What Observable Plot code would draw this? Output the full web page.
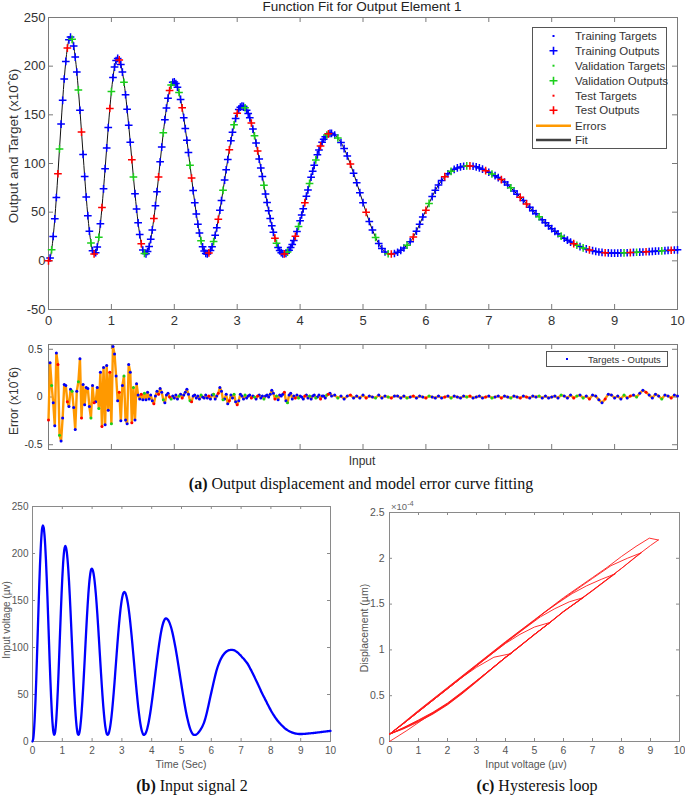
<!DOCTYPE html>
<html><head><meta charset="utf-8">
<script src="https://cdn.jsdelivr.net/npm/d3@7"></script>
<script src="https://cdn.jsdelivr.net/npm/@observablehq/plot@0.6"></script>
<style>
body{margin:0;background:#fff}
#fig{position:relative;width:685px;height:796px;overflow:hidden;background:#fff;font-family:"Liberation Sans",Arial,sans-serif;color:#333}
.t{position:absolute;white-space:nowrap;line-height:1}
.cap{font-family:"Liberation Serif","Times New Roman",serif;color:#111}
</style></head><body><div id="fig"></div>
<script>
// ---------------- DATA ----------------
// sample grid of the fitted signal (s): fine steps up to 4.5 s, coarser after
const fineSamples = d3.range(0, 181).map(i => +(i * 0.025).toFixed(3));
const coarseSamples = d3.range(1, 111).map(i => +(4.5 + i * 0.05).toFixed(3));
const sampleTimes = [...fineSamples, ...coarseSamples];

// network outputs (x10^6), one array per half-cycle
const outRise1 = [0, 2.9, 11.4, 25.1, 43.2, 65.1, 89.5, 115, 140.5, 164.9, 186.8, 204.9, 218.6, 227.1, 230];
const outFall1 = [227.6, 220.6, 209.3, 194.0, 175.6, 154.7, 132.3, 109.3, 86.6, 65.5, 46.4, 30.5, 18.4, 10.4, 7.1];
const outRise2 = [8.4, 14.2, 24.2, 38.0, 54.8, 74.0, 94.7, 116.0, 136.9, 156.5, 173.9, 188.3, 199.1, 205.7, 208];
const outFall2 = [206.4, 201.7, 193.9, 183.5, 170.6, 155.7, 139.3, 121.8, 103.9, 86.1, 69.0, 53.2, 39.0, 27.0, 17.6, 11.1, 7.6];
const outRise3 = [7.2, 9.6, 14.6, 22.1, 31.8, 43.5, 56.7, 71.1, 86.2, 101.7, 116.9, 131.5, 145.0, 157.0, 167.1, 175.0, 180.6, 183.5];
const outFall3 = [183.8, 182.1, 178.4, 173.0, 165.8, 157.2, 147.1, 135.9, 123.9, 111.2, 98.1, 85.0, 72.2, 59.8, 48.2, 37.7, 28.5, 20.7, 14.5, 10.1, 7.6];
const outRise4 = [7.0, 8.1, 10.6, 14.5, 19.8, 26.3, 33.9, 42.6, 52.0, 61.9, 72.4, 83.0, 93.6, 104.1, 114.0, 123.4, 132.1, 139.7, 146.2, 151.5, 155.4, 157.9, 159.0];
const outFall4 = [158.7, 157.3, 154.8, 151.4, 146.9, 141.6, 135.4, 128.5, 121.0, 112.9, 104.5, 95.5, 86.6, 77.6, 68.6, 59.9, 51.5, 43.4, 36.0, 29.3, 23.3, 18.1, 13.8, 10.6, 8.4, 7.2];
const outRise5 = [7.1, 7.7, 9.0, 11.0, 13.6, 16.9, 20.8, 25.2, 30.1, 35.4, 41.1, 47.1, 53.4, 59.8, 66.4, 72.9, 79.5, 85.9, 92.1, 98.1, 103.7, 108.9, 113.8, 118.1, 121.8, 124.9, 127.4, 129.3, 130.5, 131.0, 130.9];
const outFall5 = [129.3, 126.2, 121.5, 115.3, 107.8, 99.4, 90.1, 80.2, 70.0, 59.8, 49.8, 40.4, 31.7, 24.1, 17.7, 12.6, 9.2, 7.3];
const outRise6 = [7.0, 7.5, 8.8, 10.8, 13.2, 16.0, 19.5, 24.5, 30.5, 37.5, 45, 52, 59, 66, 72.5, 78, 82.5, 86.5, 89.5, 92, 94, 95.5, 96.5, 97.2, 97.5, 97.5];
const outTail = [97.2, 96.6, 95.5, 94.2, 92.6, 91.0, 89.2, 87.5, 85.5, 83.5, 81, 78, 75, 71.8, 68.5, 65.2, 62, 58.5, 55, 51.5,
  48.5, 45.3, 42.2, 39, 36, 33, 30.3, 27.8, 25.3, 23.2, 21.2, 19.3, 17.6, 16, 14.6, 13.3, 12.2, 11.2, 10.4, 9.7,
  9.1, 8.6, 8.3, 8.1, 8.0, 8.0, 8.0, 8.1, 8.2, 8.3, 8.5, 8.6, 8.8, 8.9, 9.1, 9.3, 9.5, 9.7, 9.9, 10.1,
  10.3, 10.5, 10.7, 10.9, 11.1, 11.3];
const outputValues = [...outRise1, ...outFall1, ...outRise2, ...outFall2, ...outRise3, ...outFall3,
  ...outRise4, ...outFall4, ...outRise5, ...outFall5, ...outRise6, ...outTail];

// errors = targets - outputs (x10^6)
const errEarly = [
  -0.24, 0.36, 0.12, -0.06, -0.30, 0.46, 0.34, -0.40, -0.46, -0.22,
  0.13, 0.12, -0.05, -0.10, 0.08, 0.06, -0.11, -0.34, 0.06, 0.16,
  0.40, -0.22, 0.13, -0.08, 0.10, 0.09, -0.10, -0.22, 0.12, -0.06,
  -0.05, 0.10, -0.12, 0.26, -0.31, 0.31, -0.29, 0.33, -0.14, 0.26,
  -0.28, 0.53, 0.45, 0.22, -0.04, 0.05, -0.25, 0.12, 0.22, -0.24,
  -0.28, 0.34, 0.26, -0.27, 0.10, -0.24, 0.14, 0.02, -0.02, 0.03,
  -0.03];
const errMid = [
  0.04, -0.03, 0.05, -0.02, 0.02, -0.04, -0.07, 0.01, 0.06, 0.03, 0.09, 0.05, -0.03, -0.06, 0.02, 0.04, 0.00, -0.02, 0.01, -0.01,
  0.02, -0.02, 0.01, 0.03, -0.01, 0.02, 0.05, 0.08, 0.03, -0.04, -0.05, 0.01, 0.02, -0.01, 0.01, -0.02, 0.02, 0.00, -0.01, 0.02,
  -0.01, 0.01, -0.02, 0.02, 0.03, -0.02, 0.01, 0.04, 0.10, 0.06, -0.03, -0.02, 0.03, -0.07, -0.04, 0.02, -0.01, 0.03, -0.05, -0.08,
  -0.04, 0.03, 0.01, -0.02, 0.02, -0.01, 0.01, 0.02, -0.01, 0.01, 0.00, -0.02, 0.01, 0.02, -0.01, 0.01, -0.02, 0.01, 0.02, 0.00,
  0.03, 0.07, 0.04, -0.02, 0.01, -0.03, 0.02, 0.01, 0.03, 0.05, -0.04, -0.06, 0.02, 0.04, -0.02, 0.01, -0.01, 0.02, -0.01, 0.01,
  0.00, -0.02, 0.01, 0.02, -0.01, 0.01, -0.02, 0.01, 0.02, -0.01, 0.00, 0.02, -0.02, 0.01, 0.01, -0.01, 0.02, 0.03, 0.04, 0.01];
const errLate = [
  0.02, -0.01, 0.01, -0.02, 0.01, 0.02, -0.01, 0.01, -0.01, 0.02,
  -0.01, 0.01, 0.00, -0.01, 0.02, -0.01, 0.01, 0.00, -0.01, 0.01,
  0.01, -0.01, 0.01, -0.01, 0.00, 0.01, -0.01, 0.01, 0.00, -0.01,
  0.01, 0.00, -0.01, 0.01, -0.01, 0.00, 0.01, -0.01, 0.01, 0.00,
  -0.01, 0.01, 0.00, 0.01, -0.01, 0.00, 0.01, -0.01, 0.00, 0.01,
  -0.01, 0.00, 0.01, -0.01, 0.01, 0.00, -0.01, 0.01, 0.00, -0.01,
  0.01, 0.00, -0.01, 0.01, 0.00, 0.01, -0.01, 0.01, -0.01, 0.00,
  0.01, -0.01, 0.02, 0.01, -0.01, 0.02, -0.01, 0.01, 0.02, -0.01,
  0.01, -0.02, 0.02, 0.01, -0.03, -0.06, -0.02, 0.03, 0.02, -0.01,
  0.01, -0.02, 0.02, -0.01, 0.01, 0.02, 0.00, 0.04, 0.07, 0.05,
  0.02, -0.01, 0.03, 0.01, -0.02, 0.02, 0.01, -0.01, 0.02, 0.01];
const errorValues = [...errEarly, ...errMid, ...errLate];

// data division of each sample: t = training, v = validation, s = test
const setCodes = (
  "stvtttsvtt" + "ttsttvtttv" + "tstttttvts" + "ttvtstttts" + "vttttsttvt" +
  "tttsvtttts" + "tvtttttstt" + "sttvtttsvt" + "tttvtstttt" + "vstttttvtt" +
  "ttsttvttst" + "tvtttsttvt" + "sttttvttts" + "tvtstttvtt" + "ttttsvtttt" +
  "stvttttstv" + "tttsttvttt" + "vttstttvst" + "ttvtttsttt" + "tsttvtttvs" +
  "ttttvtsttt" + "svttttstvt" + "tttvstttts" + "tvttsttvtt" + "ststttvttt" +
  "tttvtttsvt" + "vtsttttstt" + "tttvtstvtt" + "sttttvttst" + "tvtsttttvt").split("");

// hysteresis loop: input voltage (µv) vs displacement (x10^-4 µm), branch by branch
const hysUp1X = [0, 0.6, 1.2, 1.5, 2, 2.5, 3, 3.5, 4, 4.5, 5, 5.5, 6, 6.5, 7, 7.5, 8, 8.5, 9, 9.27];
const hysUp1Y = [0, 0.12, 0.25, 0.31, 0.41, 0.53, 0.66, 0.79, 0.92, 1.04, 1.17, 1.29, 1.42, 1.53, 1.65, 1.77, 1.89, 2.02, 2.14, 2.20];
const hysDown1X = [9.27, 8.96, 8.5, 8, 7.5, 7, 6.5, 6, 5.5, 5, 4.5, 4, 3.5, 3, 2.5, 2, 1.5, 1, 0.5, 0];
const hysDown1Y = [2.20, 2.22, 2.13, 2.02, 1.90, 1.79, 1.68, 1.57, 1.45, 1.33, 1.21, 1.09, 0.965, 0.84, 0.715, 0.59, 0.465, 0.34, 0.21, 0.08];
const hysUp2X = [0, 0.5, 1, 1.5, 2, 2.5, 3, 3.5, 4, 4.5, 5, 5.5, 6, 6.5, 7, 7.5, 8, 8.68];
const hysUp2Y = [0.08, 0.14, 0.215, 0.30, 0.40, 0.52, 0.65, 0.785, 0.915, 1.04, 1.17, 1.29, 1.42, 1.535, 1.65, 1.77, 1.89, 2.06];
const hysDown2X = [8.68, 8.2, 7.64, 7, 6.5, 6, 5.5, 5, 4.5, 4, 3.5, 3, 2.5, 2, 1.5, 1, 0.5, 0];
const hysDown2Y = [2.06, 2.0, 1.92, 1.78, 1.67, 1.56, 1.445, 1.325, 1.205, 1.085, 0.96, 0.835, 0.71, 0.585, 0.46, 0.335, 0.205, 0.08];
const hysUp3X = [0, 0.5, 1, 1.5, 2, 2.5, 3, 3.5, 4, 4.5, 5, 5.5, 6, 6.5, 7, 7.5, 7.78];
const hysUp3Y = [0.08, 0.145, 0.22, 0.305, 0.405, 0.525, 0.655, 0.785, 0.915, 1.04, 1.165, 1.29, 1.415, 1.53, 1.645, 1.765, 1.83];
const hysDown3X = [7.78, 7.3, 6.8, 6.3, 5.8, 5.3, 5, 4.5, 4, 3.5, 3, 2.5, 2, 1.5, 1, 0.5, 0];
const hysDown3Y = [1.83, 1.77, 1.70, 1.615, 1.51, 1.40, 1.32, 1.20, 1.08, 0.955, 0.83, 0.705, 0.58, 0.455, 0.33, 0.20, 0.08];
const hysUp4X = [0, 0.5, 1, 1.5, 2, 2.5, 3, 3.5, 4, 4.5, 5, 5.5, 6, 6.68];
const hysUp4Y = [0.08, 0.15, 0.225, 0.31, 0.41, 0.53, 0.66, 0.79, 0.92, 1.045, 1.17, 1.295, 1.42, 1.57];
const hysDown4X = [6.68, 6.2, 5.7, 5.2, 4.6, 4, 3.5, 3, 2.5, 2, 1.5, 1, 0.5, 0];
const hysDown4Y = [1.57, 1.525, 1.45, 1.36, 1.22, 1.075, 0.95, 0.825, 0.70, 0.575, 0.45, 0.325, 0.20, 0.08];
const hysUp5X = [0, 0.5, 1, 1.5, 2, 2.5, 3, 3.5, 4, 4.5, 5, 5.54];
const hysUp5Y = [0.08, 0.15, 0.23, 0.315, 0.415, 0.535, 0.66, 0.79, 0.92, 1.045, 1.17, 1.30];
const hysDown5X = [5.54, 5.0, 4.5, 4.0, 3.5, 3, 2.5, 2, 1.5, 1, 0.5, 0];
const hysDown5Y = [1.30, 1.25, 1.17, 1.07, 0.95, 0.825, 0.70, 0.575, 0.45, 0.325, 0.20, 0.08];
const hysUp6X = [0, 0.5, 1, 1.5, 2, 2.5, 3, 3.5, 4, 4.2];
const hysUp6Y = [0.08, 0.155, 0.235, 0.32, 0.42, 0.54, 0.665, 0.79, 0.92, 0.96];
const hysDown6X = [4.2, 3.6, 3.0, 2.5, 2, 1.5, 1, 0.5, 0];
const hysDown6Y = [0.96, 0.92, 0.81, 0.70, 0.575, 0.45, 0.325, 0.20, 0.08];

// tick values
const xTicks = [0, 1, 2, 3, 4, 5, 6, 7, 8, 9, 10];
const fitYTicks = [-50, 0, 50, 100, 150, 200, 250];
const errYTicks = [-0.5, 0, 0.5];
const inputYTicks = [0, 50, 100, 150, 200, 250];
const hysYTicks = [0, 0.5, 1, 1.5, 2, 2.5];

// ---------------- BUILD ----------------
const fig = document.getElementById("fig");
const BLUE = "#0000ff", GREEN = "#1ccf1c", RED = "#ff0000", ORANGE = "#ff9900";
const SET_COLOR = {t: BLUE, v: GREEN, s: RED};

const samples = sampleTimes.map((t, i) => ({
  t, y: outputValues[i], err: errorValues[i], set: setCodes[i] || "t"
}));
const hysBranches = [[hysUp1X, hysUp1Y], [hysDown1X, hysDown1Y], [hysUp2X, hysUp2Y], [hysDown2X, hysDown2Y],
  [hysUp3X, hysUp3Y], [hysDown3X, hysDown3Y], [hysUp4X, hysUp4Y], [hysDown4X, hysDown4Y],
  [hysUp5X, hysUp5Y], [hysDown5X, hysDown5Y], [hysUp6X, hysUp6Y], [hysDown6X, hysDown6Y]];
const hysPoints = hysBranches.flatMap(([xs, ys], b) => xs.map((x, i) => ({x, y: ys[i], b})));

function place(el, left, top) {
  el.style.position = "absolute"; el.style.left = left + "px"; el.style.top = top + "px";
  fig.appendChild(el);
}
function text(html, x, y, o = {}) {
  const d = document.createElement("div");
  d.className = "t" + (o.cls ? " " + o.cls : "");
  d.innerHTML = html;
  d.style.left = x + "px"; d.style.top = y + "px";
  d.style.fontSize = (o.size || 12) + "px";
  if (o.color) d.style.color = o.color;
  d.style.transform = "translate(-50%,-50%)" + (o.rotate ? ` rotate(${o.rotate}deg)` : "");
  fig.appendChild(d);
}
// inward tick marks on all four sides of a box
function boxTicks(xt, yt, xd, yd, innerW, innerH, len, stroke) {
  const xl = len * (xd[1] - xd[0]) / innerW, yl = len * (yd[1] - yd[0]) / innerH;
  return [
    Plot.ruleX(xt, {x: d => d, y1: yd[0], y2: yd[0] + yl, stroke}),
    Plot.ruleX(xt, {x: d => d, y1: yd[1], y2: yd[1] - yl, stroke}),
    Plot.ruleY(yt, {y: d => d, x1: xd[0], x2: xd[0] + xl, stroke}),
    Plot.ruleY(yt, {y: d => d, x1: xd[1], x2: xd[1] - xl, stroke})
  ];
}
const baseStyle = {background: "transparent", fontFamily: "'Liberation Sans', Arial, sans-serif", color: "#333", overflow: "visible"};
const fmt = d => String(d);

// ---- (a) top: function fit ----
{
  const W = 685, H = 335, mL = 48, mR = 8, mT = 17, mB = 26;
  const xd = [0, 10], yd = [-50, 250];
  const markers = [];
  for (const k of ["t", "v", "s"]) {
    const sub = samples.filter(d => d.set === k);
    markers.push(Plot.dot(sub, {x: "t", y: d => d.y + d.err, r: 1, fill: SET_COLOR[k], stroke: "none"}));
    markers.push(Plot.dot(sub, {x: "t", y: "y", symbol: "plus", r: 2.6, stroke: SET_COLOR[k], strokeWidth: 1.5}));
  }
  const svg = Plot.plot({
    width: W, height: H, marginLeft: mL, marginRight: mR, marginTop: mT, marginBottom: mB,
    x: {domain: xd, axis: null}, y: {domain: yd, axis: null},
    style: {...baseStyle, fontSize: "13px"},
    marks: [
      Plot.frame({stroke: "#7a7a7a"}),
      ...boxTicks(xTicks, fitYTicks, xd, yd, W - mL - mR, H - mT - mB, 5, "#7a7a7a"),
      Plot.axisX({ticks: xTicks, tickSize: 0, tickPadding: 6, label: null, tickFormat: fmt, fontSize: 13}),
      Plot.axisY({ticks: fitYTicks, tickSize: 0, tickPadding: 3, label: null, tickFormat: fmt, fontSize: 13}),
      Plot.line(samples, {x: "t", y: "y", stroke: "#111", strokeWidth: 1, curve: "catmull-rom"}),
      ...markers
    ]
  });
  place(svg, 0, 0);
  text("Function Fit for Output Element 1", 362, 6.5, {size: 13.5, color: "#222"});
  text("Output and Target  (x10ˆ6)", 14, 146, {size: 13.5, rotate: -90, color: "#333"});

  // legend
  const legendRows = [
    ["Training Targets", "dot", BLUE], ["Training Outputs", "plus", BLUE],
    ["Validation Targets", "dot", GREEN], ["Validation Outputs", "plus", GREEN],
    ["Test Targets", "dot", RED], ["Test Outputs", "plus", RED],
    ["Errors", "line", ORANGE], ["Fit", "line", "#404040"]
  ];
  const rowY = [9, 23.7, 38.7, 53.7, 68.7, 83.3, 98.7, 113];
  let s = `<svg width="136" height="123" xmlns="http://www.w3.org/2000/svg" style="font-family:'Liberation Sans',Arial,sans-serif">`;
  s += `<rect x="0.5" y="0.5" width="134" height="121" fill="#fff" stroke="#555"/>`;
  legendRows.forEach(([lab, kind, col], i) => {
    const y = rowY[i];
    if (kind === "dot") s += `<rect x="20.5" y="${y - 1}" width="2" height="2" fill="${col}"/>`;
    if (kind === "plus") s += `<path d="M17.5,${y}h8M21.5,${y - 4}v8" stroke="${col}" stroke-width="1.6"/>`;
    if (kind === "line") s += `<line x1="4" x2="39" y1="${y}" y2="${y}" stroke="${col}" stroke-width="2.5"/>`;
    s += `<text x="43" y="${y + 4}" font-size="11.5" fill="#333">${lab}</text>`;
  });
  s += `</svg>`;
  const lg = document.createElement("div"); lg.innerHTML = s;
  place(lg, 532, 27);
}

// ---- (a) bottom: error ----
{
  const W = 685, H = 140, mL = 48, mR = 8, mT = 14, mB = 21;
  const xd = [0, 10], yd = [-0.55, 0.55];
  const dots = ["t", "v", "s"].map(k =>
    Plot.dot(samples.filter(d => d.set === k), {x: "t", y: "err", r: 1.5, fill: SET_COLOR[k], stroke: "none"}));
  const svg = Plot.plot({
    width: W, height: H, marginLeft: mL, marginRight: mR, marginTop: mT, marginBottom: mB,
    x: {domain: xd, axis: null}, y: {domain: yd, axis: null},
    style: {...baseStyle, fontSize: "10.5px"},
    marks: [
      Plot.frame({stroke: "#7a7a7a"}),
      ...boxTicks(xTicks, errYTicks, xd, yd, W - mL - mR, H - mT - mB, 5, "#7a7a7a"),
      Plot.axisY({ticks: errYTicks, tickSize: 0, tickPadding: 6, label: null, tickFormat: fmt, fontSize: 10.5}),
      Plot.line(samples, {x: "t", y: "err", stroke: ORANGE, strokeWidth: 2.4}),
      ...dots
    ]
  });
  place(svg, 0, 330);
  text("Error (x10ˆ6)", 14, 401, {size: 12, rotate: -90});
  text("Input", 362, 461, {size: 12});
  let s = `<svg width="123" height="17" xmlns="http://www.w3.org/2000/svg" style="font-family:'Liberation Sans',Arial,sans-serif">`;
  s += `<rect x="0.5" y="0.5" width="121" height="15" fill="#fff" stroke="#555"/>`;
  s += `<rect x="20" y="7" width="2" height="2" fill="${BLUE}"/>`;
  s += `<text x="42" y="11.5" font-size="9.5" fill="#333">Targets - Outputs</text></svg>`;
  const lg = document.createElement("div"); lg.innerHTML = s;
  place(lg, 546, 351);
  text("<b>(a)</b> Output displacement and model error curve fitting", 361, 484, {size: 16, cls: "cap"});
}

// ---- (b) input signal ----
{
  const W = 345, H = 280, mL = 32, mR = 15, mT = 11, mB = 34;
  const xd = [0, 10], yd = [0, 250];
  const svg = Plot.plot({
    width: W, height: H, marginLeft: mL, marginRight: mR, marginTop: mT, marginBottom: mB,
    x: {domain: xd, axis: null}, y: {domain: yd, axis: null},
    style: {...baseStyle, fontSize: "10px", color: "#555"},
    marks: [
      Plot.frame({stroke: "#8a8a8a"}),
      ...boxTicks(xTicks, inputYTicks, xd, yd, W - mL - mR, H - mT - mB, 3, "#8a8a8a"),
      Plot.axisX({ticks: xTicks, tickSize: 0, tickPadding: 5, label: null, tickFormat: fmt, fontSize: 10}),
      Plot.axisY({ticks: inputYTicks, tickSize: 0, tickPadding: 4, label: null, tickFormat: fmt, fontSize: 10}),
      Plot.line(samples, {x: "t", y: "y", stroke: BLUE, strokeWidth: 2.3, curve: "catmull-rom"})
    ]
  });
  place(svg, 0, 495);
  text("Input voltage (µv)", 7, 620, {size: 10, rotate: -90, color: "#555"});
  text("Time (Sec)", 181, 764, {size: 10.5, color: "#555"});
  text("<b>(b)</b> Input signal 2", 192, 786, {size: 16, cls: "cap"});
}

// ---- (c) hysteresis loop ----
{
  const W = 340, H = 280, mL = 44, mR = 6, mT = 17, mB = 34;
  const xd = [0, 10], yd = [0, 2.5];
  const svg = Plot.plot({
    width: W, height: H, marginLeft: mL, marginRight: mR, marginTop: mT, marginBottom: mB,
    x: {domain: xd, axis: null}, y: {domain: yd, axis: null},
    style: {...baseStyle, fontSize: "10.5px", color: "#555"},
    marks: [
      Plot.frame({stroke: "#8a8a8a"}),
      ...boxTicks(xTicks, hysYTicks, xd, yd, W - mL - mR, H - mT - mB, 3, "#8a8a8a"),
      Plot.axisX({ticks: xTicks, tickSize: 0, tickPadding: 5, label: null, tickFormat: fmt, fontSize: 10.5}),
      Plot.axisY({ticks: hysYTicks, tickSize: 0, tickPadding: 5, label: null, tickFormat: fmt, fontSize: 10.5}),
      Plot.line(hysPoints, {x: "x", y: "y", z: "b", stroke: "#ff1a1a", strokeWidth: 0.9})
    ]
  });
  place(svg, 345, 495);
  const sc = document.createElement("div");
  sc.className = "t"; sc.style.fontSize = "9.5px"; sc.style.color = "#666";
  sc.innerHTML = "×10<sup style='font-size:7.5px'>-4</sup>";
  place(sc, 391, 500);
  text("Displacement (µm)", 364, 628, {size: 10.5, rotate: -90, color: "#555"});
  text("Input voltage (µv)", 526, 764, {size: 10.5, color: "#555"});
  text("<b>(c)</b> Hysteresis loop", 537, 786, {size: 16, cls: "cap"});
}
</script></body></html>
